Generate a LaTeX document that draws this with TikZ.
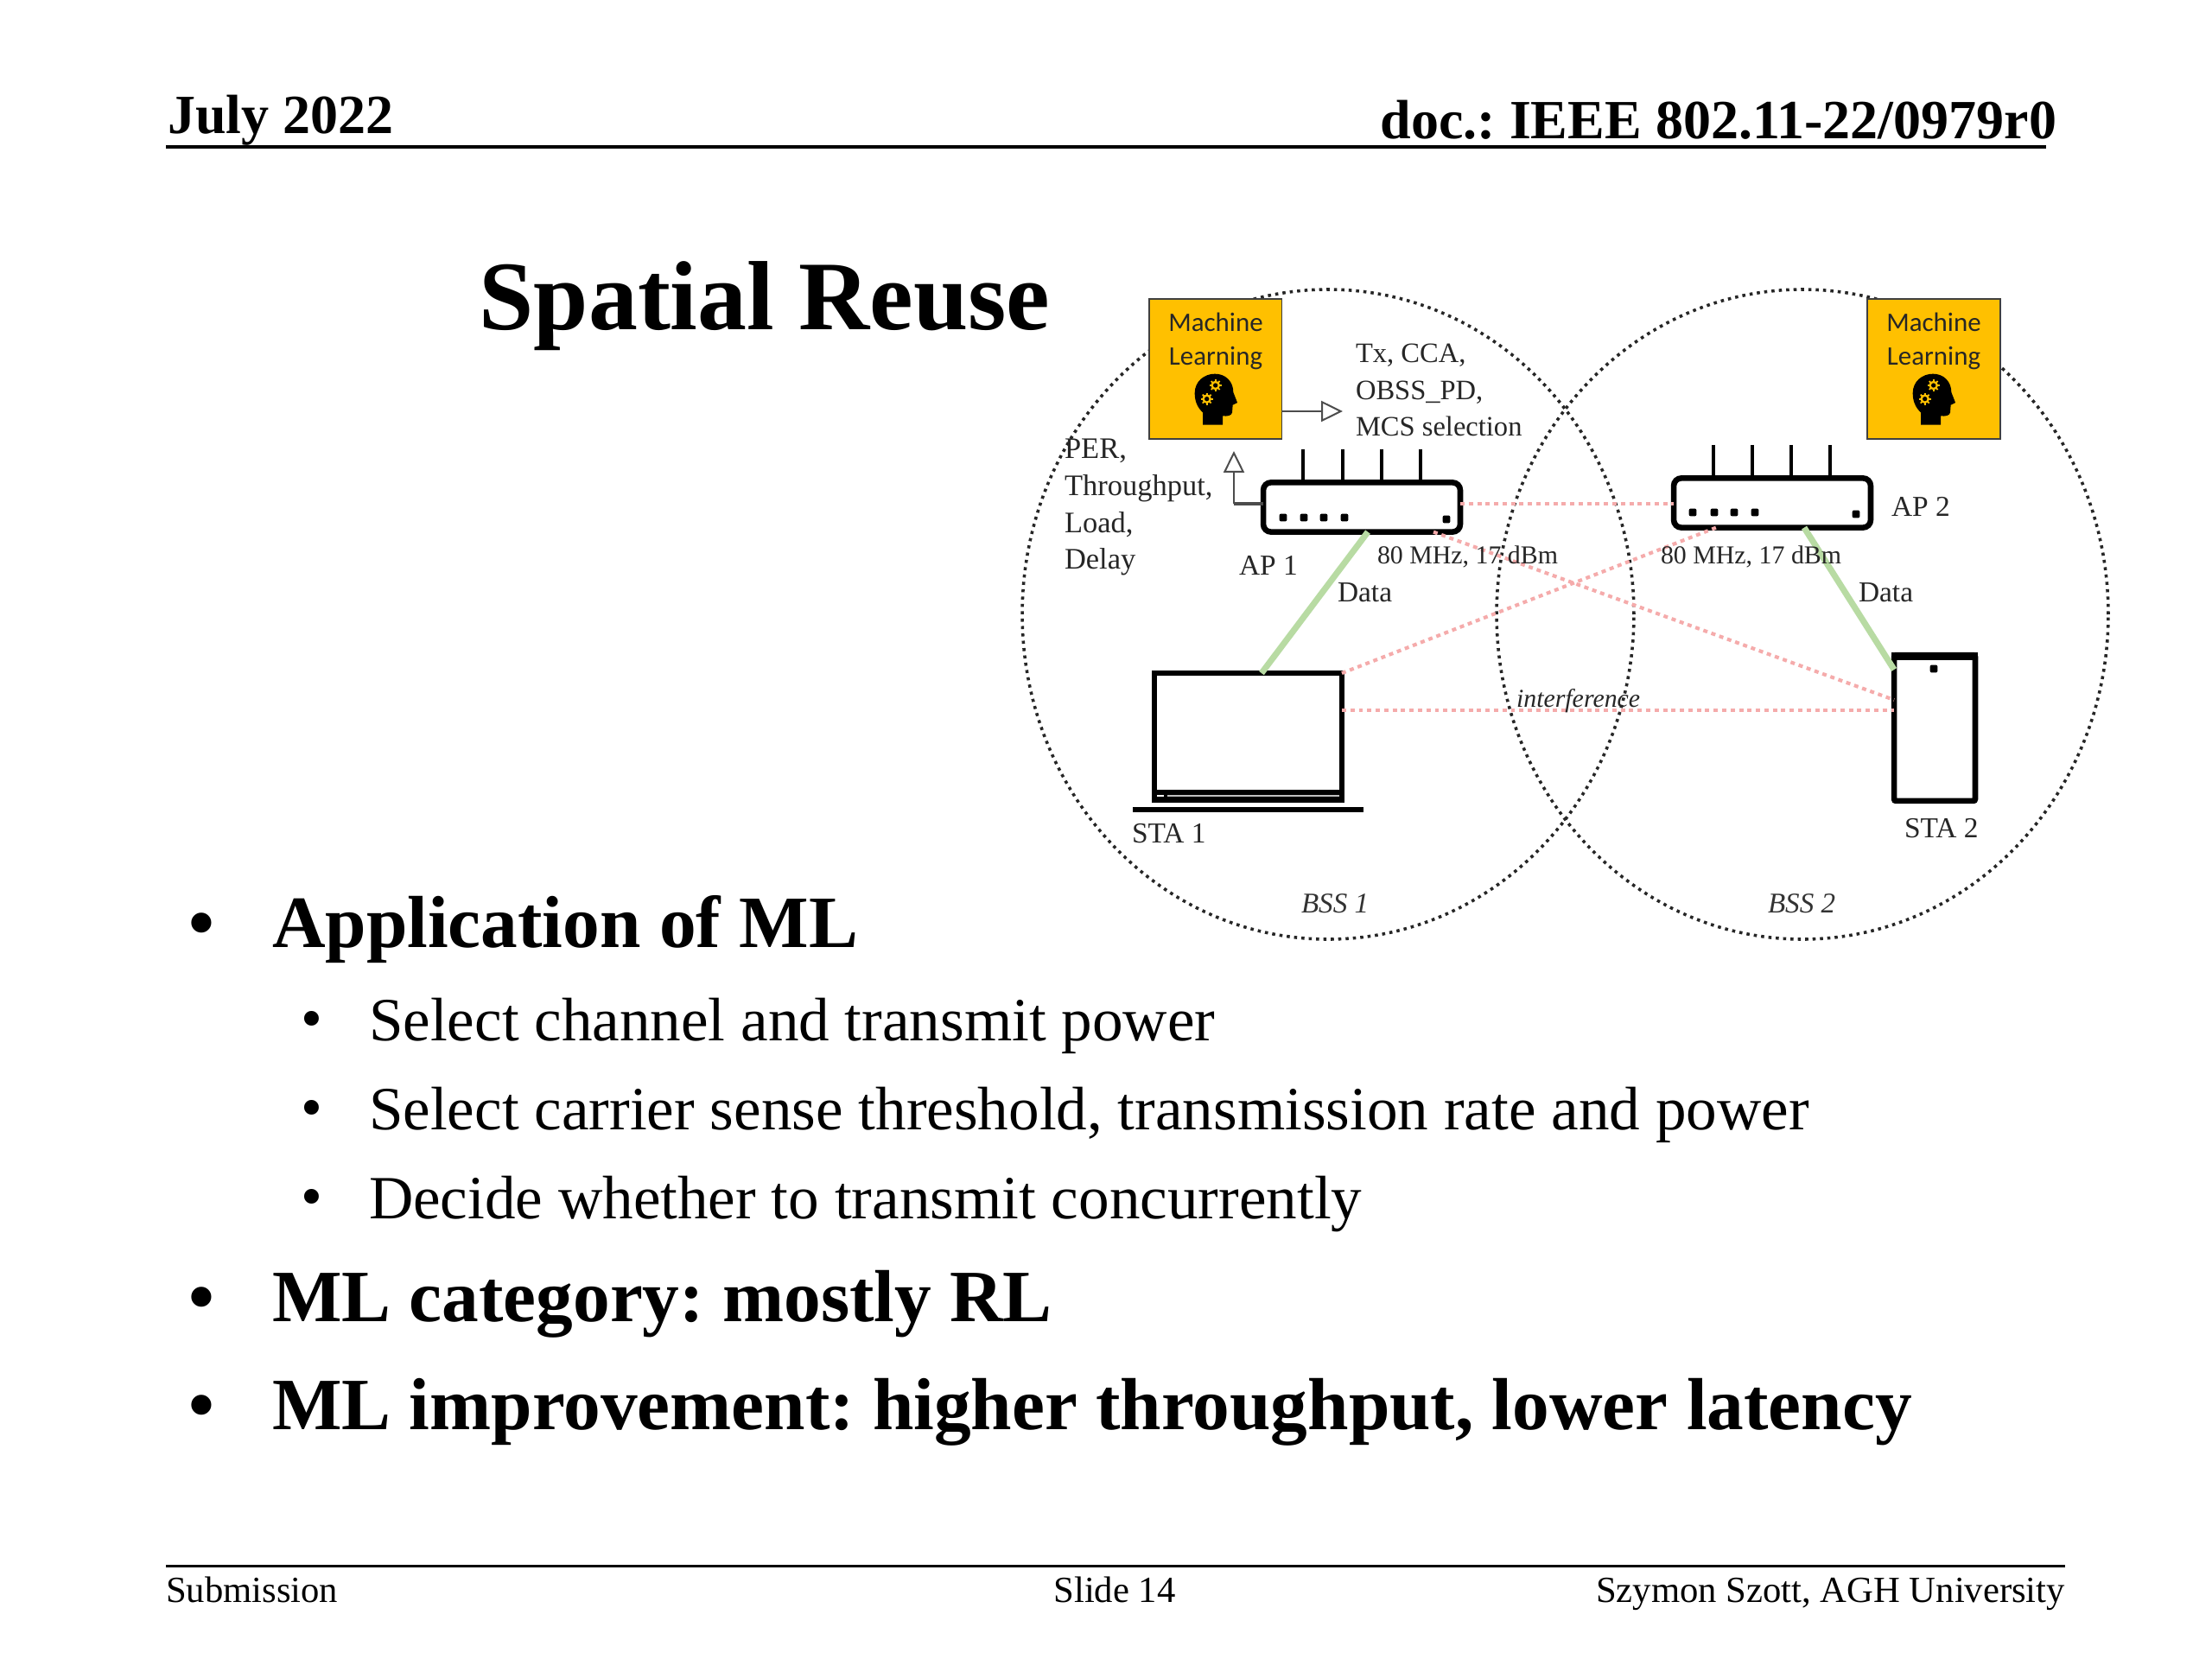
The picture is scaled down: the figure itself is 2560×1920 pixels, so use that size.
\documentclass[tikz,border=0pt]{standalone}
\usepackage{fontspec}
\setmainfont{Liberation Serif}
\newfontfamily\calib{Carlito}
\usetikzlibrary{arrows.meta,calc,shapes.geometric}
\definecolor{mlgold}{HTML}{FFC000}
\definecolor{datagreen}{HTML}{B8DBA3}
\definecolor{intfpink}{HTML}{F5ABAB}
\def\pu{0.28125pt}
\frenchspacing
\tikzset{
  txt/.style={inner sep=0pt,outer sep=0pt,anchor=base west},
  txtr/.style={inner sep=0pt,outer sep=0pt,anchor=base east},
  txtc/.style={inner sep=0pt,outer sep=0pt,anchor=base},
  hdr/.style={font=\fontsize{18}{18}\selectfont\bfseries\frenchspacing},
  foot/.style={font=\fontsize{12}{12}\selectfont},
  lead/.style={font=\fontsize{24}{24}\selectfont\bfseries\frenchspacing},
  subitem/.style={font=\fontsize{20}{20}\selectfont\frenchspacing},
  lbl/.style={font=\fontsize{9.4}{9.4}\selectfont,text=black!85},
  lblb/.style={font=\fontsize{9.7}{9.7}\selectfont,text=black!85},
  lblc/.style={font=\fontsize{9.15}{9.15}\selectfont,text=black!85},
  smlbl/.style={font=\fontsize{8.4}{8.4}\selectfont,text=black!85},
  itlbl/.style={font=\fontsize{8.4}{8.4}\selectfont\itshape,text=black!85},
  bsslbl/.style={font=\fontsize{9.3}{9.3}\selectfont\itshape,text=black!80},
  mlbox/.style={draw=black!75,fill=mlgold,line width=0.56pt,inner sep=0pt,outer sep=0pt,minimum width=43.3pt,minimum height=45.3pt},
  mltxt/.style={inner sep=0pt,outer sep=0pt,anchor=base,font=\calib\fontsize{8.7}{8.7}\selectfont,text=black!85},
  router/.style={draw=black,fill=white,line width=1.85pt,rounded corners=2.5pt,inner sep=0pt,outer sep=0pt,minimum width=64.1pt,minimum height=16.1pt},
  antenna/.style={line width=1.15pt,black},
  leddot/.style={fill=black,inner sep=0pt,outer sep=0pt,rectangle,rounded corners=0.6pt,minimum size=2.5pt},
  laptop/.style={draw=black,fill=white,line width=1.85pt,inner sep=0pt,outer sep=0pt,minimum width=61pt,minimum height=41.3pt},
  phone/.style={draw=black,fill=white,line width=1.85pt,rounded corners=0.6pt,inner sep=0pt,outer sep=0pt,minimum width=26.4pt,minimum height=47.5pt},
  bss/.style={ellipse,draw=black!85,line width=1pt,dash pattern=on 1pt off 1.4pt,inner sep=0pt,outer sep=0pt,minimum width=199.1pt,minimum height=211.5pt},
  datal/.style={datagreen,line width=2pt},
  intf/.style={intfpink,line width=1.15pt,dash pattern=on 1.4pt off 1.35pt},
  ctl/.style={black!70,line width=0.5pt,-{Triangle[open,fill=white,length=7pt,width=6.75pt,line width=0.56pt]}},
  rule/.style={black,line width=0.85pt},
}
\newcommand{\headicon}[2]{%
  \begin{scope}[shift={(#1,#2)},x=0.09375pt,y=-0.09375pt]
    \fill[black] (216,455) -- (216,412) .. controls (197,395) and (188,372) .. (188,345)
      .. controls (188,305) and (220,278) .. (258,278)
      .. controls (296,278) and (322,305) .. (322,342)
      -- (336,378) -- (320,386) -- (318,412) .. controls (316,424) and (300,426) .. (285,424) -- (285,455) -- cycle;
    \foreach \cx/\cy in {260/318,230/365}{
      \begin{scope}[shift={(\cx,\cy)}]
        \foreach \a in {0,45,...,315}{\draw[mlgold,line width=0.5pt] (\a:12) -- (\a:21);}
        \fill[mlgold] (0,0) circle [radius=16];
        \fill[black] (0,0) circle [radius=8];
      \end{scope}
    }
  \end{scope}}
\begin{document}
\begin{tikzpicture}[x=\pu,y=-\pu]
\useasboundingbox[fill=white] (0,0) rectangle (2560,1920);
% header
\node[txt,hdr] (date) at (194,155) {July 2022};
\node[txtr,hdr] (doc) at (2380,161) {doc.: IEEE 802.11-22/0979r0};
\coordinate (hl) at (192,170); \coordinate (hr) at (2368,170);
\draw[rule] (hl) -- (hr);
% title
\node[txtc,font=\fontsize{32}{32}\selectfont\bfseries] (title) at (885,382) {Spatial Reuse};
% BSS circles
\node[bss] (bss1) at (1537,711) {};
\node[bss] (bss2) at (2086,711) {};
% devices
\node[router] (ap1) at (1576,587) {};
\node[router] (ap2) at (2051,582) {};
\node[laptop] (sta1) at (1444.5,852.5) {};
\node[phone] (sta2) at (2239,842.5) {};
% data links
\draw[datal] (ap1.south -| 1583,0) -- (sta1.north -| 1460,0);
\draw[datal] (ap2.south -| 2088,0) -- (sta2.west |- 0,775);
% interference links
\draw[intf] (ap1.east |- 0,583) -- (ap2.west |- 0,583);
\draw[intf] (sta1.east |- 0,822) -- (sta2.west |- 0,822);
\draw[intf] (sta1.north east) -- (ap2.south -| 1986,0);
\draw[intf] (ap1.south -| 1659,0) -- (sta2.west |- 0,810);
% antennas and lamps
\foreach \x in {1508,1554,1599,1644}{\coordinate (t) at (\x,520); \draw[antenna] (t) -- (ap1.north -| t);}
\foreach \x in {1983,2028,2073,2118}{\coordinate (t) at (\x,515); \draw[antenna] (t) -- (ap2.north -| t);}
\foreach \x in {1485,1509,1532,1556}{\node[leddot] at (\x,599) {};}
\node[leddot] at (1674,601) {};
\foreach \x in {1959,1984,2007,2031}{\node[leddot] at (\x,593) {};}
\node[leddot] at (2148,595) {};
% laptop details
\fill[black] (1335,914) rectangle (1554,927);
\draw[black!25,line width=0.3pt] (1351,921) -- (1550,921);
\draw[white,line width=0.3pt] (1339,921) -- (1347,921);
\node[fill=black,inner sep=0pt,outer sep=0pt,minimum width=75.1pt,minimum height=1.5pt] (base) at (1444.5,937) {};
% phone details
\fill[black] (2189,755) rectangle (2289,764);
\node[leddot] at (2238,774) {};
% machine learning boxes
\node[mlbox] (ml1) at (1406.5,427) {};
\node[mlbox] (ml2) at (2238,427) {};
\node[mltxt] (m1a) at (1407,384) {Machine};
\node[mltxt] (m1b) at (1407,423) {Learning};
\node[mltxt] (m2a) at (2238,384) {Machine};
\node[mltxt] (m2b) at (2238,423) {Learning};
\headicon{1320}{340}
\headicon{2151}{340}
% control arrows
\coordinate (outTip) at (1554,476);
\coordinate (fbTip) at (1428,522);
\coordinate (fbKnee) at (1428,583);
\draw[ctl] (ml1.east |- outTip) -- (outTip);
\draw[black!70,line width=0.9pt] (ap1.west |- fbKnee) -- (fbKnee);
\draw[ctl] (fbKnee) -- (fbTip);
% labels
\node[txt,lblc] (l1) at (1569,420) {Tx, CCA,};
\node[txt,lblc] (l2) at (1569,463) {OBSS\_PD,};
\node[txt,lblc] (l3) at (1569,505) {MCS selection};
\node[txt,lblb] (p1) at (1232,531) {PER,};
\node[txt,lblb] (p2) at (1232,574) {Throughput,};
\node[txt,lblb] (p3) at (1232,617) {Load,};
\node[txt,lblb] (p4) at (1232,659) {Delay};
\node[txt,lbl] (ap1l) at (1434,666) {AP 1};
\node[txt,lbl] (ap2l) at (2189,598) {AP 2};
\node[txt,smlbl] (f1) at (1594,653) {80 MHz, 17 dBm};
\node[txt,smlbl] (f2) at (1922,653) {80 MHz, 17 dBm};
\node[txt,lbl] (d1) at (1548,697) {Data};
\node[txt,lbl] (d2) at (2151,697) {Data};
\node[txt,itlbl] (intfl) at (1755,819) {interference};
\node[txt,lbl] (s1) at (1310,975) {STA 1};
\node[txt,lbl] (s2) at (2204,969) {STA 2};
\node[txt,bsslbl] (b1) at (1506,1056) {BSS 1};
\node[txt,bsslbl] (b2) at (2046,1056) {BSS 2};
% bullets
\node[txt,lead] (bu1) at (218,1096) {•};
\node[txt,lead] (t1) at (315,1096) {Application of ML};
\node[txt,subitem] (bu2) at (348,1202) {•};
\node[txt,subitem] (t2) at (427,1204) {Select channel and transmit power};
\node[txt,subitem] (bu3) at (348,1305) {•};
\node[txt,subitem] (t3) at (427,1307) {Select carrier sense threshold, transmission rate and power};
\node[txt,subitem] (bu4) at (348,1408) {•};
\node[txt,subitem] (t4) at (427,1410) {Decide whether to transmit concurrently};
\node[txt,lead] (bu5) at (218,1529) {•};
\node[txt,lead] (t5) at (315,1529) {ML category: mostly RL};
\node[txt,lead] (bu6) at (218,1654) {•};
\node[txt,lead] (t6) at (315,1654) {ML improvement: higher throughput, lower latency};
% footer
\coordinate (fl) at (192,1812); \coordinate (fr) at (2390,1812);
\draw[rule] (fl) -- (fr);
\node[txt,foot] (sub) at (192,1854) {Submission};
\node[txtc,foot] (slide) at (1290,1854) {Slide 14};
\node[txtr,foot] (auth) at (2390,1854) {Szymon Szott, AGH University};
\end{tikzpicture}
\end{document}
